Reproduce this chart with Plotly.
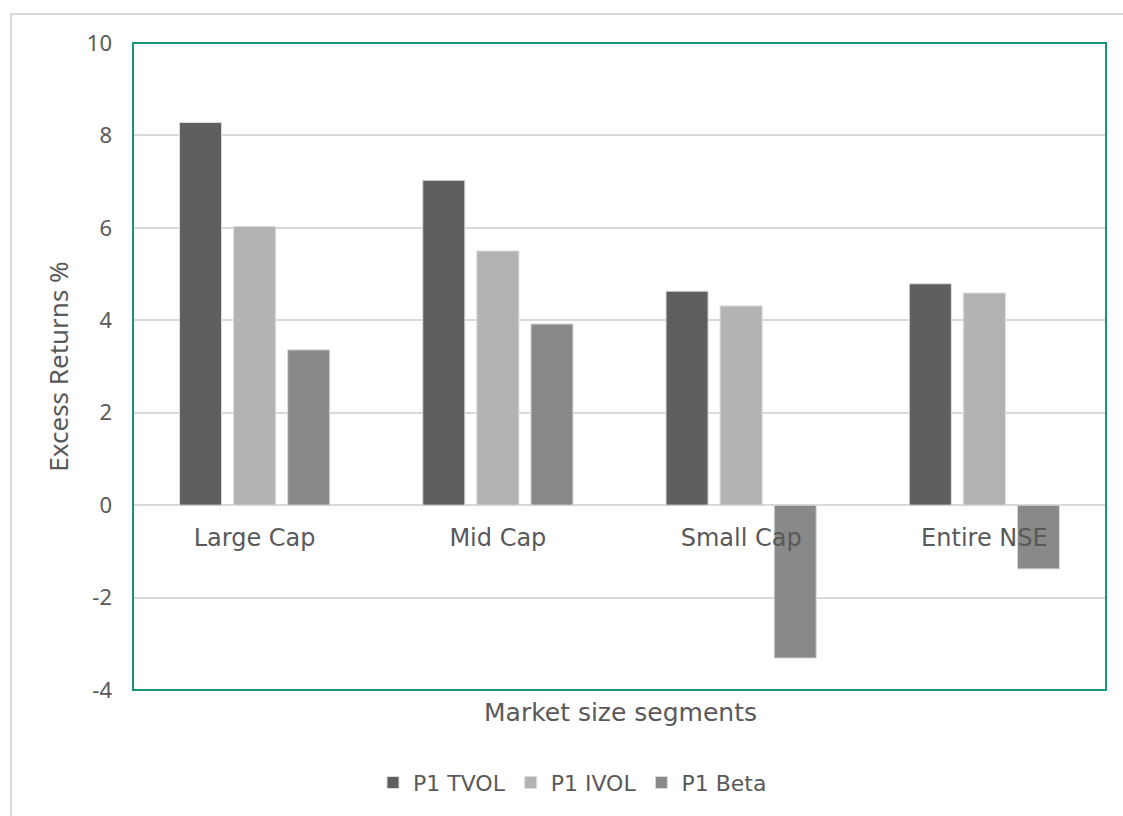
import plotly.graph_objects as go

categories = ["Large Cap", "Mid Cap", "Small Cap", "Entire NSE"]
p1_tvol = [8.28, 7.03, 4.63, 4.79]
p1_ivol = [6.03, 5.50, 4.31, 4.59]
p1_beta = [3.36, 3.92, -3.31, -1.38]
y_ticks = [-4, -2, 0, 2, 4, 6, 8, 10]
y_tick_labels = ["-4", "-2", "0", "2", "4", "6", "8", "10"]

series = [
    ("P1 TVOL", p1_tvol, "#5f5f5f"),
    ("P1 IVOL", p1_ivol, "#b3b3b3"),
    ("P1 Beta", p1_beta, "#898989"),
]

W, H = 1123, 816
L, R, T, B = 133, 17, 43, 124
plot_w = W - L - R
plot_h = H - T - B

def px_x(px):
    return (px - L) / plot_w

def px_y(py):
    return (H - B - py) / plot_h

fig = go.Figure()
for name, vals, col in series:
    fig.add_trace(go.Bar(
        x=categories, y=vals, name=name,
        marker=dict(color=col, line=dict(color="#dcdcdc", width=1)),
    ))

ymin, ymax = -4, 10
font_main = "DejaVu Sans"
font_num = "Noto Sans"
txt = "#595959"

fig.update_layout(
    width=W, height=H,
    margin=dict(l=L, r=R, t=T, b=B),
    paper_bgcolor="white", plot_bgcolor="white",
    barmode="group", bargap=0.333, bargroupgap=0.222,
    showlegend=True,
    legend=dict(orientation="h", x=px_x(373), xanchor="left",
                y=px_y(785), yanchor="middle",
                font=dict(family=font_main, size=22, color=txt),
                traceorder="normal"),
    xaxis=dict(
        anchor="free", position=(0 - ymin) / (ymax - ymin),
        showline=False, showgrid=False, zeroline=False, ticks="",
        tickfont=dict(family=font_main, size=24, color=txt),
        ticklabelstandoff=16,
    ),
    yaxis=dict(
        range=[ymin, ymax], tickmode="array",
        tickvals=y_ticks, ticktext=y_tick_labels,
        showgrid=True, gridcolor="#d9d9d9", gridwidth=1.5,
        zeroline=True, zerolinecolor="#d9d9d9", zerolinewidth=1.5,
        showline=False, ticks="",
        tickfont=dict(family=font_num, size=22, color=txt),
        ticklabelstandoff=20,
        title=dict(text="Excess Returns %", font=dict(family=font_num, size=26, color=txt),
                   standoff=10),
    ),
    annotations=[dict(
        text="Market size segments", xref="paper", yref="paper",
        x=px_x(620), y=px_y(715), xanchor="center", yanchor="middle",
        showarrow=False, font=dict(family=font_main, size=25, color=txt),
    )],
    shapes=[
        dict(type="rect", xref="paper", yref="paper",
             x0=px_x(11), x1=px_x(1140), y0=px_y(830), y1=px_y(14),
             line=dict(color="#d9d9d9", width=2), layer="below"),
        dict(type="rect", xref="paper", yref="paper",
             x0=0, x1=1, y0=0, y1=1,
             line=dict(color="#17957a", width=2), layer="above"),
    ],
)

fig.write_html("out.html")
